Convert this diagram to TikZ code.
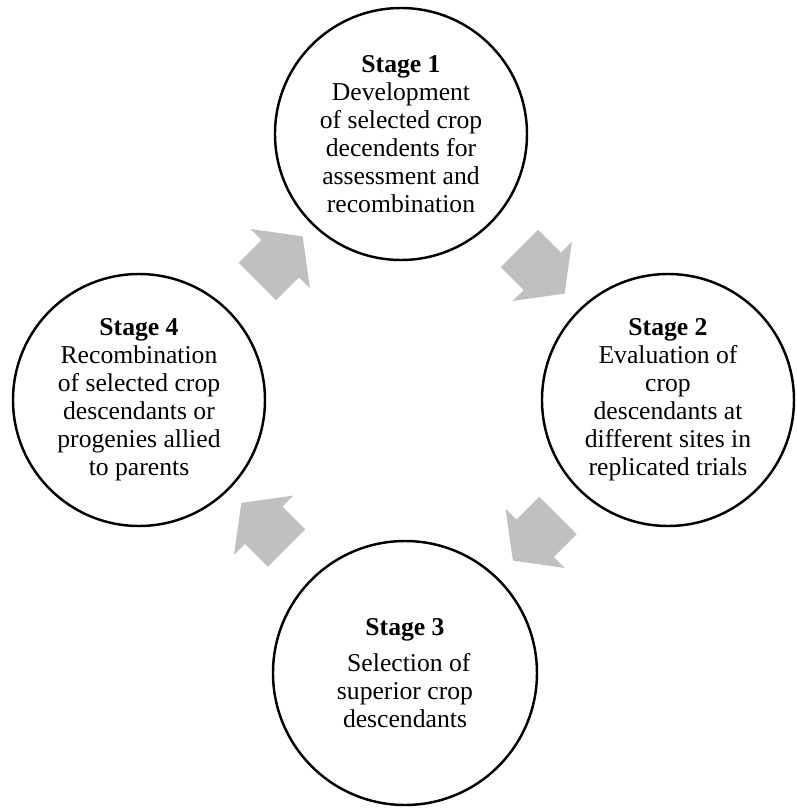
\documentclass[tikz,border=0pt]{standalone}
\usepackage{fontspec}
\setmainfont{Liberation Serif}
\usetikzlibrary{shapes.arrows}
\definecolor{arrowgray}{HTML}{BFC0BF}
\tikzset{stage/.style={circle, draw, line width=1.4pt, minimum size=5.04cm, inner sep=0pt, align=center, font=\fontsize{14.6}{15.9}\selectfont}, % the four stage circles
cyclearrow/.style={single arrow, fill=arrowgray, inner xsep=0pt, inner ysep=0.52cm, minimum height=1.28cm, single arrow head extend=0.31cm, single arrow tip angle=106}, % grey block arrows of the cycle
}

\begin{document}
\begin{tikzpicture}
    \useasboundingbox (-8.04,-8.16) rectangle (7.9,8.02);
    \node[stage] (s1) at (-0.02,5.34) {\textbf{Stage 1}\\Development\\of selected crop\\decendents for\\assessment and\\recombination};
    \node[stage] (s2) at (5.32,0.02) {\textbf{Stage 2}\\Evaluation of\\crop\\descendants at\\different sites in\\replicated trials};
    \node[stage, minimum size=5.28cm] (s3) at (0.06,-5.44) {\textbf{Stage 3}\\[0.3em]\hspace*{0.3em}Selection of\\superior crop\\descendants};
    \node[stage] (s4) at (-5.26,0.02) {\textbf{Stage 4}\\Recombination\\of selected crop\\descendants or\\progenies allied\\to parents};
    % arrows between the circles
    \node[cyclearrow, rotate=-45] (a12) at (2.66,2.74) {};
    \node[cyclearrow, rotate=-135] (a23) at (2.81,-2.60) {};
    \node[cyclearrow, rotate=135] (a34) at (-2.62,-2.63) {};
    \node[cyclearrow, rotate=45] (a41) at (-2.58,2.70) {};
  \end{tikzpicture}
\end{document}
